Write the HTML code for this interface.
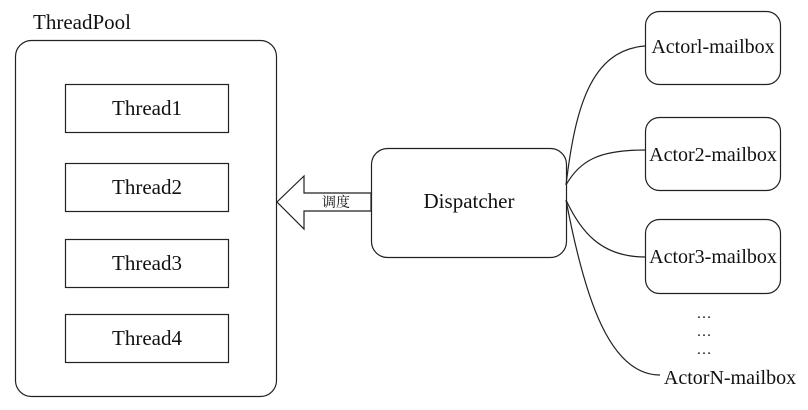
<!DOCTYPE html>
<html><head><meta charset="utf-8"><style>
body{margin:0;background:#fff;}
svg text{font-family:"Liberation Serif","Noto Serif CJK SC",serif;fill:#111;}
</style></head><body>
<svg width="808" height="405" viewBox="0 0 808 405" xmlns="http://www.w3.org/2000/svg">
<g fill="none" stroke="#222" stroke-width="1.2">
<rect x="15.5" y="40.5" width="261" height="356" rx="16"/>
<rect x="65.5" y="84.5" width="163" height="48"/>
<rect x="65.5" y="163.5" width="163" height="48"/>
<rect x="65.5" y="239.5" width="163" height="48"/>
<rect x="65.5" y="314.5" width="163" height="48"/>
<rect x="371.5" y="148.5" width="195" height="109" rx="16"/>
<polygon points="371,193 304,193 304,176 277,202 304,229 304,211 371,211" fill="#fff"/>
<rect x="645.5" y="11.5" width="135" height="73" rx="14"/>
<rect x="645.5" y="117.5" width="135" height="73" rx="14"/>
<rect x="645.5" y="219.5" width="135" height="74" rx="14"/>
<path d="M566,185 C575,110 590,50 645,46"/>
<path d="M566,185 C580,160 600,150 645,150"/>
<path d="M566,200 C580,230 600,257 645,257"/>
<path d="M566,200 C585,300 610,375 660,375"/>
</g>
<text x="33" y="29" font-size="21">ThreadPool</text>
<text x="147" y="115" font-size="21" text-anchor="middle">Thread1</text>
<text x="147" y="194" font-size="21" text-anchor="middle">Thread2</text>
<text x="147" y="270" font-size="21" text-anchor="middle">Thread3</text>
<text x="147" y="345" font-size="21" text-anchor="middle">Thread4</text>
<text x="469" y="208" font-size="21" text-anchor="middle">Dispatcher</text>
<text x="336" y="207" font-size="14" text-anchor="middle">调度</text>
<text x="713" y="53" font-size="20" text-anchor="middle">Actorl-mailbox</text>
<text x="713" y="161" font-size="20" text-anchor="middle">Actor2-mailbox</text>
<text x="713" y="263" font-size="20" text-anchor="middle">Actor3-mailbox</text>
<text x="704" y="318" font-size="15" text-anchor="middle">…</text>
<text x="704" y="336" font-size="15" text-anchor="middle">…</text>
<text x="704" y="354" font-size="15" text-anchor="middle">…</text>
<text x="730" y="384" font-size="20" text-anchor="middle">ActorN-mailbox</text>
</svg>
</body></html>
